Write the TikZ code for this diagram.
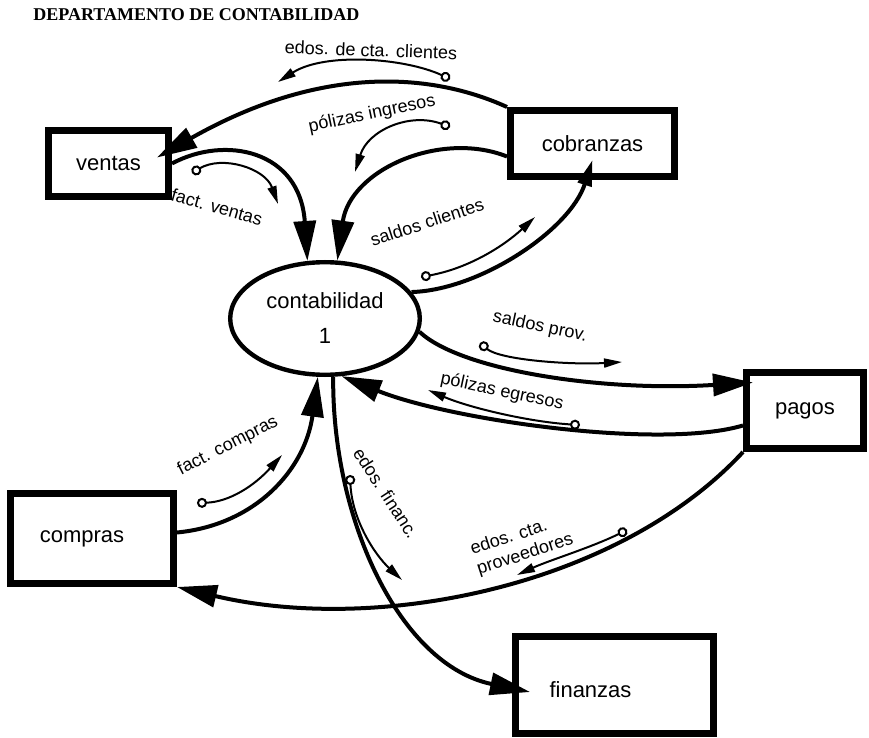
\documentclass[tikz,border=0pt]{standalone}
\usepackage{fontspec}
\setmainfont{Liberation Sans}
\newfontfamily\titlefont{Liberation Serif}
\usetikzlibrary{shapes.geometric,arrows.meta}
\newcommand{\boxfont}{\fontsize{11}{13}\selectfont}
\newcommand{\msgfont}{\fontsize{9}{10.5}\selectfont}

\begin{document}
\begin{tikzpicture}[x=0.5pt,y=-0.5pt,
    box/.style={draw,line width=3.5pt,font=\boxfont,inner sep=0pt},
    proc/.style={draw,ellipse,line width=2.2pt,font=\boxfont,inner sep=0pt,
        align=center,minimum width=94.8pt,minimum height=56.3pt},
    flow/.style={line width=2pt,arrows={-Triangle[length=20pt,width=11pt]}},
    msg/.style={line width=1pt,
        arrows={Circle[open,length=5pt]-Triangle[length=9pt,width=4.5pt]}},
    lbl/.style={font=\msgfont,inner sep=1pt}]
    \useasboundingbox (0,0) rectangle (869,738);

    \node[anchor=west,inner sep=0pt,font=\titlefont\bfseries\fontsize{9}{11}\selectfont]
        (title) at (33,15) {DEPARTAMENTO DE CONTABILIDAD};

    % entidades y proceso
    \node[box,minimum width=60pt,minimum height=33pt] (ventas) at (108.5,163.5) {ventas};
    \node[box,minimum width=82pt,minimum height=33pt] (cobranzas) at (592.5,143.5) {cobranzas};
    \node[proc] (contab) at (325,318.5) {contabilidad\\[4.5pt]1};
    \node[box,minimum width=58.5pt,minimum height=38pt] (pagos) at (805,410.5) {pagos};
    \node[box,minimum width=81.5pt,minimum height=45pt,
        label={[font=\boxfont,xshift=-5pt]center:compras}] (compras) at (92,538.5) {};
    \node[box,minimum width=99pt,minimum height=48.5pt,
        label={[font=\boxfont,xshift=-12pt,yshift=-2.5pt]center:finanzas}] (finanzas) at (614.5,685) {};

    % flujos
    \draw[flow] (cobranzas.north west) .. controls (430,72) and (320,65) .. ([shift={(-15,-6)}]ventas.east);
    \draw[flow] ([shift={(0,13)}]cobranzas.west) .. controls (440,130) and (350,170) .. (contab.78);
    \draw[flow] (ventas.east) .. controls (225,135) and (300,150) .. (contab.107);
    \draw[flow,arrows={-Triangle[length=13pt,width=7pt]}]
        (contab.17) .. controls (480,290) and (570,230) .. ([shift={(0,-20)}]cobranzas.south);
    \draw[flow] (contab.-8) .. controls (460,370) and (600,392) .. ([shift={(10,-28)}]pagos.west);
    \draw[flow] ([shift={(0,15)}]pagos.west) .. controls (660,450) and (450,420) .. (contab.-74);
    \draw[flow] ([shift={(0,-6)}]compras.east) .. controls (255,525) and (305,470) .. (contab.263);
    \draw[flow] (contab.-82) .. controls (332,520) and (400,665) .. ([shift={(18,7)}]finanzas.west);
    \draw[flow] (pagos.south west) .. controls (620,585) and (380,635) .. (compras.south east);

    % datos
    \coordinate (edc-a) at (450,79);  \coordinate (edc-b) at (278,82);
    \draw[msg] (edc-a) .. controls (405,58) and (325,52) .. (edc-b);
    \node[lbl,rotate=-2] (edc) at (371,50) {edos. de cta. clientes};

    \coordinate (pin-a) at (450,127); \coordinate (pin-b) at (355,172);
    \draw[msg] (pin-a) .. controls (410,112) and (368,130) .. (pin-b);
    \node[lbl,rotate=12] (pin) at (372,114) {pólizas ingresos};

    \coordinate (fve-a) at (192,173); \coordinate (fve-b) at (278,204);
    \draw[msg] (fve-a) .. controls (222,155) and (265,168) .. (fve-b);
    \node[lbl,rotate=-16] (fve) at (217,207) {fact. ventas};

    \coordinate (scl-a) at (421,277); \coordinate (scl-b) at (535,217);
    \draw[msg] (scl-a) .. controls (470,268) and (505,245) .. (scl-b);
    \node[lbl,rotate=18] (scl) at (427,222) {saldos clientes};

    \coordinate (spr-a) at (480,343); \coordinate (spr-b) at (622,362);
    \draw[msg] (spr-a) .. controls (500,360) and (570,365) .. (spr-b);
    \node[lbl,rotate=-12] (spr) at (540,327) {saldos prov.};

    \coordinate (peg-a) at (580,425); \coordinate (peg-b) at (428,390);
    \draw[msg] (peg-a) .. controls (530,422) and (470,408) .. (peg-b);
    \node[lbl,rotate=-12] (peg) at (502,392) {pólizas egresos};

    \coordinate (fco-a) at (197,503); \coordinate (fco-b) at (282,455);
    \draw[msg] (fco-a) .. controls (230,502) and (255,485) .. (fco-b);
    \node[lbl,rotate=27] (fco) at (228,446) {fact. compras};

    \coordinate (efi-a) at (350,475); \coordinate (efi-b) at (402,580);
    \draw[msg] (efi-a) .. controls (352,520) and (375,555) .. (efi-b);
    \node[lbl,rotate=-57] (efi) at (386,493) {edos. financ.};

    \coordinate (epr-a) at (627,530); \coordinate (epr-b) at (517,575);
    \draw[msg] (epr-a) .. controls (590,548) and (550,560) .. (epr-b);
    \node[lbl,rotate=18,align=left] (epr) at (522,545) {edos. cta.\\proveedores};
\end{tikzpicture}
\end{document}
